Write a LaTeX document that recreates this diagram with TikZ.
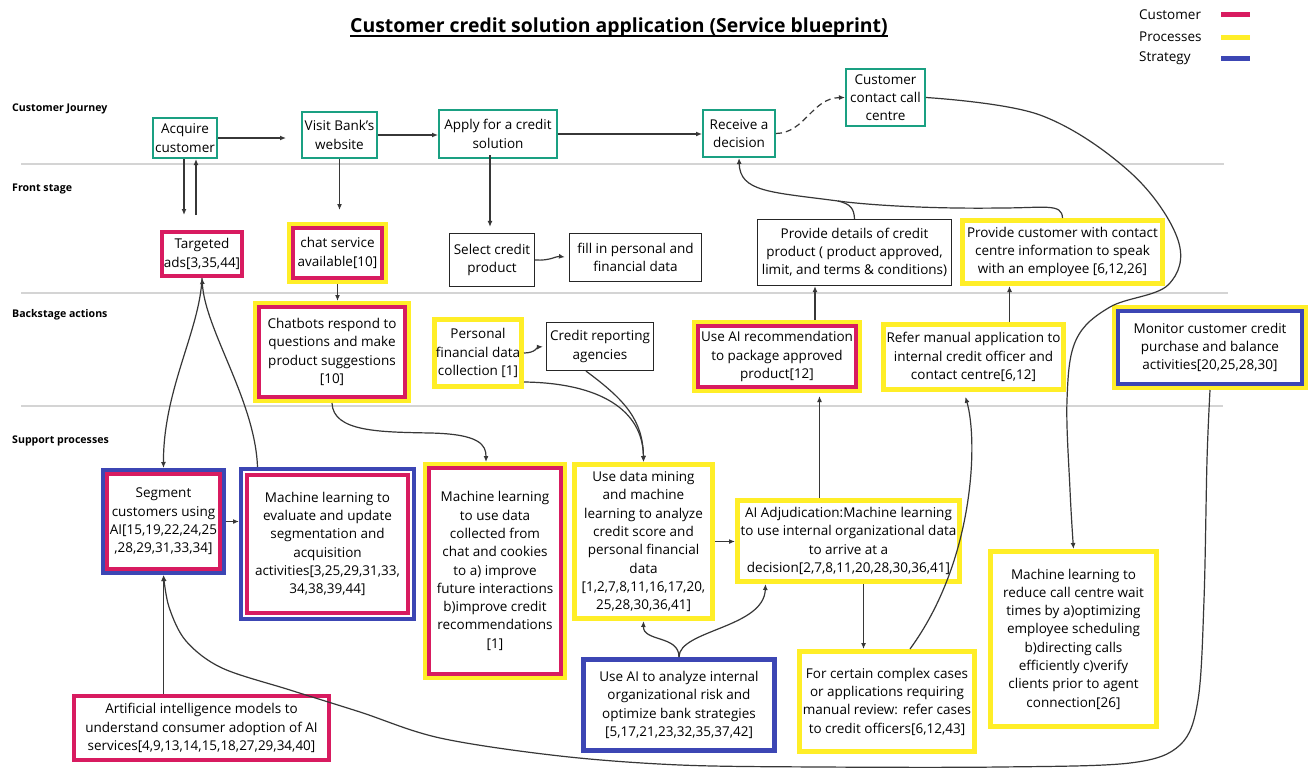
\documentclass[tikz,border=0pt]{standalone}
\usepackage{fontspec}
\setmainfont{Open Sans}
\usetikzlibrary{arrows.meta}
\definecolor{cteal}{RGB}{26,160,130}
\definecolor{cpink}{RGB}{216,27,96}
\definecolor{cyel}{RGB}{255,238,40}
\definecolor{cblue}{RGB}{60,70,180}
\definecolor{cline}{RGB}{55,55,55}
\definecolor{clane}{RGB}{212,212,212}
\tikzset{
  bx/.style={draw, fill=white, align=center, inner sep=1pt, text=black,
    font=\fontsize{13.5}{18.3}\selectfont},
  cj/.style={bx, draw=cteal, line width=2pt, outer sep=1pt},
  pl/.style={bx, draw=black!85, line width=1.2pt, outer sep=0.6pt},
  pk/.style={bx, draw=cpink, line width=4pt, outer sep=2pt},
  yl/.style={bx, draw=cyel, line width=5pt, outer sep=2.5pt},
  bl/.style={bx, draw=cblue, line width=5pt, outer sep=2.5pt},
  pkyl/.style={bx, draw=cpink, line width=4pt, preaction={draw=cyel, line width=12pt}, outer sep=6pt},
  pkbl/.style={bx, draw=cpink, line width=4pt, preaction={draw=cblue, line width=12pt}, outer sep=6pt},
  pkblg/.style={bx, draw=cpink, line width=4pt, preaction={draw=cblue, line width=16pt}, preaction={draw=white, line width=8pt}, outer sep=8pt},
  blyl/.style={bx, draw=cblue, line width=4pt, preaction={draw=cyel, line width=12pt}, outer sep=6pt},
  lanelbl/.style={anchor=west, inner sep=0pt, font=\bfseries\fontsize{10.6}{12}\selectfont},
  lanesep/.style={draw=clane, line width=1.2pt},
  lgd/.style={anchor=west, inner sep=0pt, font=\fontsize{13.5}{16}\selectfont},
  con/.style={draw=cline, line width=1.2pt},
  arr/.style={con, -{Latex[length=6pt,width=5pt]}},
}
\begin{document}
\begin{tikzpicture}[x=1pt,y=-1pt]
\fill[white] (0,0) rectangle (1309,768);
\useasboundingbox (0,0) rectangle (1309,768);

% title and legend
\node[inner sep=0pt, font=\bfseries\fontsize{19.4}{22}\selectfont] (title) at (619,27) {Customer credit solution application (Service blueprint)};
\draw[line width=1.5pt] ([yshift=-4pt]title.base west) -- ([yshift=-4pt]title.base east);
\node[lgd] (lg1) at (1139,15) {Customer};
\node[lgd] (lg2) at (1139,37) {Processes};
\node[lgd] (lg3) at (1139,58) {Strategy};
\draw[cpink, line width=5pt] (1221,15) -- (1250,15);
\draw[cyel, line width=5pt] (1221,38) -- (1250,38);
\draw[cblue, line width=5pt] (1221,59) -- (1250,59);

% lanes
\node[lanelbl] (l1) at (12,109) {Customer Journey};
\node[lanelbl] (l2) at (12,189) {Front stage};
\node[lanelbl] (l3) at (12,315) {Backstage actions};
\node[lanelbl] (l4) at (12,441) {Support processes};
\draw[lanesep] (21,164) -- (1224,164);
\draw[lanesep] (21,293) -- (1228,293);
\draw[lanesep] (21,406) -- (1223,406);

% customer journey
\node[cj,minimum width=64pt,minimum height=40pt] (acq) at (185,138) {Acquire\\customer};
\node[cj,minimum width=75pt,minimum height=46pt] (vis) at (339.5,135) {Visit Bank's\\website};
\node[cj,minimum width=118pt,minimum height=48pt] (app) at (498,134) {Apply for a credit\\solution};
\node[cj,minimum width=72pt,minimum height=47pt] (rec) at (739,133.5) {Receive a\\decision};
\node[cj,minimum width=79pt,minimum height=57pt] (cc) at (885.5,97.5) {Customer\\contact call\\centre};

% front stage
\node[pk,minimum width=80pt,minimum height=44pt] (ads) at (202,254) {Targeted\\ads[3,35,44]};
\node[pkyl,minimum width=89pt,minimum height=50pt] (chat) at (337.5,253) {chat service\\available[10]};
\node[pl,minimum width=85pt,minimum height=53pt] (sel) at (492,260) {Select credit\\product};
\node[pl,minimum width=132pt,minimum height=48pt] (fill) at (635.5,257.5) {fill in personal and\\financial data};
\node[pl,minimum width=194pt,minimum height=66pt] (pdet) at (854.5,252.5) {Provide details of credit\\product ( product approved,\\limit, and terms \& conditions)};
\node[yl,minimum width=200pt,minimum height=63pt] (pcc) at (1062.5,252) {Provide customer with contact\\centre information to speak\\with an employee [6,12,26]};

% backstage
\node[pkyl,minimum width=146pt,minimum height=90pt] (chb) at (332,352) {Chatbots respond to\\questions and make\\product suggestions\\{}[10]};
\node[yl,minimum width=87pt,minimum height=67pt] (pfd) at (478,353) {Personal\\financial data\\collection [1]};
\node[pl,minimum width=107pt,minimum height=48pt] (cra) at (600,346.5) {Credit reporting\\agencies};
\node[pkyl,minimum width=158pt,minimum height=61pt] (rcm) at (777,356.5) {Use AI recommendation\\to package approved\\product[12]};
\node[yl,minimum width=180pt,minimum height=65pt] (rma) at (973.5,357) {Refer manual application to\\internal credit officer and\\contact centre[6,12]};
\node[blyl,minimum width=184pt,minimum height=73pt] (mon) at (1210,347.5) {Monitor customer credit\\purchase and balance\\activities[20,25,28,30]};

% support
\node[pkbl,minimum width=113pt,minimum height=95pt] (seg) at (163.5,521.5) {Segment\\customers using\\AI[15,19,22,24,25\\{},28,29,31,33,34]};
\node[pkblg,minimum width=161pt,minimum height=138pt] (mle) at (327.5,544) {Machine learning to\\evaluate and update\\segmentation and\\acquisition\\activities[3,25,29,31,33,\\34,38,39,44]};
\node[pkyl,minimum width=132pt,minimum height=206pt] (mlu) at (495,571) {Machine learning\\to use data\\collected from\\chat and cookies\\to a) improve\\future interactions\\b)improve credit\\recommendations\\{}[1]};
\node[yl,minimum width=138pt,minimum height=154pt] (dm) at (643.5,541.5) {Use data mining\\and machine\\learning to analyze\\credit score and\\personal financial\\data\\{}[1,2,7,8,11,16,17,20,\\25,28,30,36,41]};
\node[yl,minimum width=222pt,minimum height=81pt] (adj) at (848.5,541) {AI Adjudication:Machine learning\\to use internal organizational data\\to arrive at a\\decision[2,7,8,11,20,28,30,36,41]};
\node[yl,minimum width=166pt,minimum height=175pt] (mlr) at (1073.5,639) {Machine learning to\\reduce call centre wait\\times by a)optimizing\\employee scheduling\\b)directing calls\\efficiently c)verify\\clients prior to agent\\connection[26]};
\node[yl,minimum width=175pt,minimum height=100pt] (fcc) at (887,701.5) {For certain complex cases\\or applications requiring\\manual review: refer cases\\to credit officers[6,12,43]};
\node[bl,minimum width=191pt,minimum height=91pt] (uai) at (679,705) {Use AI to analyze internal\\organizational risk and\\optimize bank strategies\\{}[5,17,21,23,32,35,37,42]};
\node[pk,minimum width=255pt,minimum height=64pt] (aim) at (201.5,728) {Artificial intelligence models to\\understand consumer adoption of AI\\services[4,9,13,14,15,18,27,29,34,40]};

% connectors
\draw[arr, shorten >=15pt] (acq.east) -- (acq.east -| vis.west);
\draw[arr] (vis.east) -- (vis.east -| app.west);
\draw[arr] (app.east) -- (app.east -| rec.west);
\draw[arr, dash pattern=on 6pt off 4pt] (rec.east) .. controls (805,133) and (812,98) .. (cc.west);
\draw[arr, shorten >=15pt] ([xshift=-1pt]acq.south) -- ([xshift=-1pt]acq.south |- ads.north);
\draw[arr, shorten <=15pt] ([xshift=11pt]acq.south |- ads.north) -- ([xshift=11pt]acq.south);
\draw[arr, shorten >=12pt] (vis.south) -- (vis.south |- chat.north);
\draw[arr, shorten >=6pt] ([xshift=-8pt,yshift=4pt]app.south) -- ([xshift=-8pt]app.south |- sel.north);
\draw[arr, shorten >=4pt] (sel.east) .. controls (550,261) and (556,256) .. (fill.west);
\coordinate (mrg) at (838,201);
\draw[arr] (pdet.north) .. controls (854,209) and (851,204) .. (mrg) .. controls (770,192) and (740,192) .. (rec.south);
\draw[con] (pcc.north) .. controls (1062,203) and (1045,208) .. (1000,208) .. controls (930,209) and (868,205) .. (mrg);
\draw[arr] ([xshift=38pt]rcm.north) -- ([xshift=38pt]rcm.north |- pdet.south);
\draw[arr] ([xshift=36pt]rma.north) -- ([xshift=36pt]rma.north |- pcc.south);
\draw[arr, shorten >=3pt] ([xshift=-29pt]adj.north) -- ([xshift=-29pt]adj.north |- rcm.south);
\draw[arr] (dm.east) -- (dm.east -| adj.west);
\draw[arr] ([xshift=15pt]adj.south) -- ([xshift=15pt]adj.south |- fcc.north);
\draw[arr, shorten >=5pt] ([xshift=23pt]fcc.north) .. controls (975,560) and (978,440) .. ([xshift=-9.5pt]rma.south);
\draw[arr] plot[smooth, tension=0.6] coordinates {(cc.east) (1040,115) (1131,173) (1178,240) (1168,285) (1110,307) (1076,340) (1067,400) (1070,490) (mlr.north)};
\draw[arr] (chat.south) -- (chat.south |- chb.north);
\draw[arr] (chb.south) .. controls (333,432) and (380,432) .. (430,433) .. controls (480,434) and (486,445) .. ([xshift=-9pt]mlu.north);
\draw[arr, shorten >=3pt] (pfd.east) .. controls (535,353) and (538,347) .. (cra.west);
\draw[arr] ([yshift=-29pt]pfd.east) .. controls (600,383) and (643,410) .. (dm.north);
\draw[arr] ([xshift=-14pt]cra.south) .. controls (625,400) and (643,420) .. (dm.north);
\draw[arr] (ads.south) .. controls (200,330) and (163,390) .. (seg.north);
\draw[arr] ([xshift=-70pt]mle.north) .. controls (255,400) and (205,330) .. (ads.south);
\draw[arr] (seg.east) -- (seg.east -| mle.west);
\draw[arr] ([xshift=-38pt]aim.north) -- (seg.south);
\draw[arr] plot[smooth, tension=0.55] coordinates {(mon.south) (1207,460) (1204,600) (1198,700) (1180,745) (1130,763) (1000,767) (820,767) (680,765) (560,756) (440,738) (360,712) (290,690) (222,668) (186,641) (169,607) (seg.south)};
\draw[arr] (uai.north) .. controls (679,635) and (643,642) .. (dm.south);
\draw[arr] (uai.north) .. controls (679,630) and (764,628) .. ([xshift=-83pt]adj.south);
\end{tikzpicture}
\end{document}
